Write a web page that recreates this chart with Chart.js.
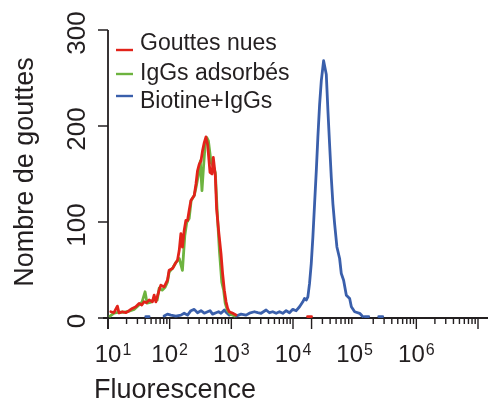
<!DOCTYPE html>
<html>
<head>
<meta charset="utf-8">
<script src="https://cdn.jsdelivr.net/npm/chart.js@4.4.1/dist/chart.umd.min.js"></script>
<style>
  html, body { margin: 0; padding: 0; background: #fff; }
  #wrap { width: 488px; height: 401px; }
</style>
</head>
<body>
<div id="wrap"><canvas id="histo" width="488" height="401"></canvas></div>
<script>
// Données (fluorescence en échelle log, nombre de gouttes)
const seriesNames = ['Gouttes nues', 'IgGs adsorbés', 'Biotine+IgGs'];

const redX = [11.1, 12.5, 14.2, 15.1, 17.1, 19.4, 21.9, 24.8, 28.2, 31.9, 35.3, 38.5, 42, 46.4, 52.5, 56, 59.7, 67.5, 71.9, 81.4,
  92.1, 98, 111, 123, 134, 143, 152, 161, 172, 183, 195, 207, 221, 250, 267, 283, 302, 322, 341, 364,
  388, 412, 451, 486, 510, 550, 577, 621, 680, 722, 770, 821, 871, 927, 1050, 1190, 5000, 17200, 20000];
const redY = [6.5, 5.5, 12.4, 5.2, 6.5, 5.5, 7.6, 10, 11.7, 15.2, 13.5, 16.9, 15.9, 18.7, 16.9, 23.8, 16.9, 29, 34.2, 32.4,
  39.4, 49.7, 51.5, 56.7, 60.1, 70.5, 87.8, 73.9, 91.2, 101.6, 101.6, 111.9, 122.3, 127.5, 139.6, 153.4, 160.3, 163.7, 174.1, 182.7,
  188.6, 181, 151.6, 150, 167.2, 148.2, 113.7, 91.2, 67, 46.3, 29, 16.9, 10, 6.5, 4.9, 3.1, null, 1.5, 1.5];

const greenX = [10.8, 12.5, 15.1, 18.2, 21.9, 26.5, 31.9, 35.6, 39.9, 43, 50, 56, 62.8, 67.5, 75.5, 84.5, 92, 98, 114, 127,
  143, 161, 176, 189, 207, 223, 250, 269, 290, 314, 334, 355, 375, 400, 425, 470, 510, 550, 595, 640,
  700, 750, 795, 860, 965, 1120];
const greenY = [2, 5, 6, 6, 7, 9, 13.5, 16.6, 27.3, 15.5, 16.6, 19.7, 18.7, 31, 29, 32, 37.3, 47.7, 52.8, 58,
  62, 49.7, 86, 99.5, 103.6, 122.3, 127.5, 136.8, 148, 163.7, 132.6, 158.5, 179, 188, 184.5, 161.7, 158.5, 151.3, 106.7, 70.5,
  37.3, 29, 15.5, 8.3, 4.1, 2];

const blueX = [41, 46.4, 60, 81.4, 92.1, 104.6, 126, 152, 172, 195, 221, 250, 283, 322, 364, 412, 451, 497, 564, 621,
  680, 770, 839, 927, 1050, 1190, 1438, 1734, 1963, 2366, 2679, 3041, 3666, 4150, 4699, 5334, 6031, 6825, 7745, 8770,
  9930, 11270, 12760, 14430, 15380, 16400, 17420, 18550, 19770, 20990, 22390, 23850, 25300, 26980, 28760, 31360, 34670, 36870, 39200, 41770,
  44370, 47320, 51520, 57020, 60710, 66170, 73260, 82940, 88340, 100000, 120500, 134900, 140000, 145500, 169000, 200000, 245500, 285000];
const blueY = [1.5, 1.5, null, 2, 4, 3, 2, 3, 5, 3, 7.6, 9, 5.5, 7.6, 5, 6.5, 7.6, 4, 5.5, 6.5,
  5, 8.3, 5.5, 3, 5, 2, 4, 3, 5, 6.5, 5.5, 4.9, 8.3, 5.5, 6.5, 4.9, 6.5, 4.9, 7.6, 5.5,
  9, 7.6, 11.7, 16.9, 20.4, 18.7, 22, 36, 56.7, 84, 119, 153, 188, 222, 247, 268, 253.6, 215.5, 181, 146.4,
  119, 98, 74, 62, 46.3, 39.4, 23.8, 20.4, 11.7, 6.5, 4.9, 1.5, null, 1.5, 1.5, null, 1.5, 1.5];

const xTickPowers = [1, 2, 3, 4, 5, 6];
const yTicks = [0, 100, 200, 300];
const longXTicks = [10, 100, 1000, 10000, 20000, 1000000, 10000000];

const colors = ['#e2231a', '#6db33f', '#3a5fab'];
const ink = '#231f20';
const fontFamily = '"Liberation Sans", Arial, sans-serif';

function toPoints(xs, ys) {
  return xs.map((v, i) => ({ x: v, y: ys[i] }));
}

// Axes, graduations et légende dessinés à la main (style de la figure)
const decorPlugin = {
  id: 'decor',
  beforeDatasetsDraw(chart) {
    const { ctx, scales: { x, y } } = chart;
    const x0 = x.getPixelForValue(10);
    const y0 = y.getPixelForValue(0);
    ctx.save();
    ctx.strokeStyle = ink;
    ctx.fillStyle = ink;

    ctx.lineWidth = 1.8;
    ctx.beginPath();
    ctx.moveTo(103, y0);
    ctx.lineTo(488, y0);
    ctx.moveTo(x0, y.getPixelForValue(300));
    ctx.lineTo(x0, y0 + 11);
    ctx.stroke();

    ctx.lineWidth = 1.4;
    ctx.beginPath();
    for (let d = 1; d <= 6; d++) {
      for (let k = 2; k <= 9; k++) {
        const px = x.getPixelForValue(k * Math.pow(10, d));
        ctx.moveTo(px, y0);
        ctx.lineTo(px, y0 + 6);
      }
    }
    longXTicks.forEach(v => {
      const px = x.getPixelForValue(v);
      ctx.moveTo(px, y0);
      ctx.lineTo(px, y0 + 11);
    });
    yTicks.forEach(v => {
      const py = y.getPixelForValue(v);
      ctx.moveTo(x0 - 10, py);
      ctx.lineTo(x0, py);
    });
    ctx.stroke();

    // étiquettes de l'axe x : 10^n
    ctx.textBaseline = 'alphabetic';
    ctx.textAlign = 'left';
    xTickPowers.forEach(p => {
      const px = x.getPixelForValue(Math.pow(10, p)) + (p === 1 ? 5 : 0);
      ctx.font = '24px ' + fontFamily;
      const wBase = ctx.measureText('10').width;
      ctx.font = '16px ' + fontFamily;
      const wSup = ctx.measureText(String(p)).width;
      const left = px - (wBase + 1 + wSup) / 2;
      ctx.font = '24px ' + fontFamily;
      ctx.fillText('10', left, 362);
      ctx.font = '16px ' + fontFamily;
      ctx.fillText(String(p), left + wBase + 1, 355);
    });

    // étiquettes de l'axe y (tournées)
    ctx.font = '26px ' + fontFamily;
    ctx.textAlign = 'center';
    yTicks.forEach(v => {
      const py = y.getPixelForValue(v);
      ctx.save();
      ctx.translate(85, py + 3);
      ctx.rotate(-Math.PI / 2);
      ctx.fillText(String(v), 0, 0);
      ctx.restore();
    });

    // titres des axes
    ctx.font = '27px ' + fontFamily;
    ctx.fillText('Fluorescence', 175, 398);
    ctx.save();
    ctx.translate(33, 172);
    ctx.rotate(-Math.PI / 2);
    ctx.fillText('Nombre de gouttes', 0, 0);
    ctx.restore();
    ctx.restore();
  },
  afterDatasetsDraw(chart) {
    const { ctx } = chart;
    const sampleY = [50, 74, 96];
    const textY = [50, 80, 108];
    ctx.save();
    ctx.font = '23px ' + fontFamily;
    ctx.textAlign = 'left';
    ctx.textBaseline = 'alphabetic';
    chart.data.datasets.forEach((ds, i) => {
      ctx.strokeStyle = ds.borderColor;
      ctx.lineWidth = 2.4;
      ctx.beginPath();
      ctx.moveTo(116, sampleY[i]);
      ctx.lineTo(133, sampleY[i]);
      ctx.stroke();
      ctx.fillStyle = ink;
      ctx.fillText(ds.label, 140, textY[i]);
    });
    ctx.restore();
  }
};

document.addEventListener('DOMContentLoaded', function() {
  const ctx = document.getElementById('histo').getContext('2d');
  new Chart(ctx, {
    type: 'line',
    data: {
      datasets: [
        { label: seriesNames[0], data: toPoints(redX, redY), borderColor: colors[0], borderWidth: 2.8 },
        { label: seriesNames[1], data: toPoints(greenX, greenY), borderColor: colors[1], borderWidth: 2.8 },
        { label: seriesNames[2], data: toPoints(blueX, blueY), borderColor: colors[2], borderWidth: 2.8 }
      ]
    },
    options: {
      responsive: false,
      animation: false,
      spanGaps: false,
      elements: {
        point: { radius: 0, hoverRadius: 0 },
        line: { tension: 0, borderJoinStyle: 'round', borderCapStyle: 'round', fill: false }
      },
      layout: { padding: { left: 108, right: 10, top: 30, bottom: 83 } },
      scales: {
        x: { type: 'logarithmic', min: 10, max: 10000000, display: false },
        y: { type: 'linear', min: 0, max: 300, display: false }
      },
      plugins: {
        legend: { display: false },
        tooltip: { enabled: false }
      }
    },
    plugins: [decorPlugin]
  });
});
</script>
</body>
</html>
